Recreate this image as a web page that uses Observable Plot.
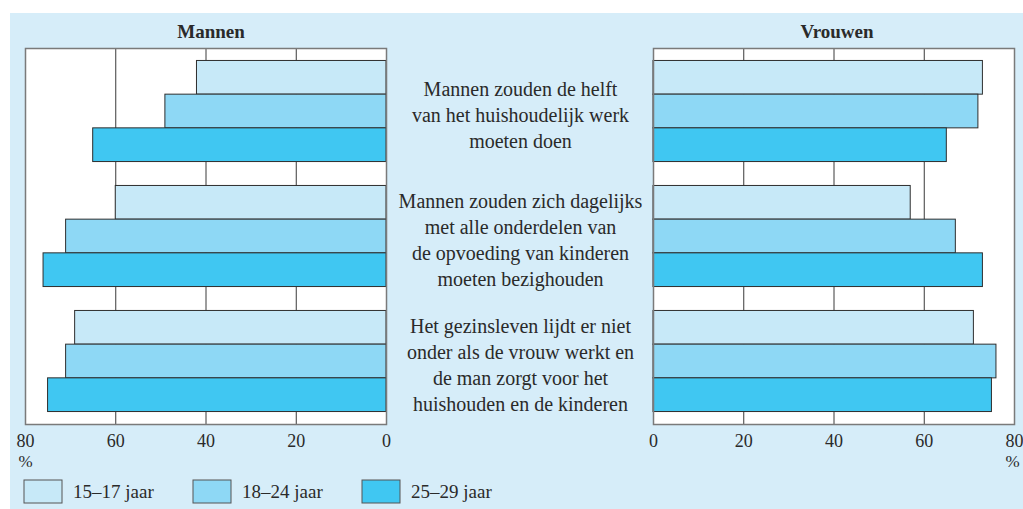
<!DOCTYPE html>
<html>
<head>
<meta charset="utf-8">
<script src="https://cdn.jsdelivr.net/npm/d3@7"></script>
<script src="https://cdn.jsdelivr.net/npm/@observablehq/plot@0.6"></script>
<style>
  html, body { margin: 0; padding: 0; background: #fff; }
  body { width: 1023px; height: 509px; position: relative; overflow: hidden; font-family: 'Liberation Serif', 'DejaVu Serif', serif; color: #2a2a2a; }
  #bg { position: absolute; left: 10px; top: 13px; width: 1013px; height: 496px; background: #d6edf9; }
  .panel { position: absolute; top: 0; }
  .panel svg { overflow: visible; }
  .panel svg, .panel svg text { font-family: 'Liberation Serif', 'DejaVu Serif', serif !important; }
  #legend { position: absolute; left: 24px; top: 475px; }
  #legend, #legend * { font-family: 'Liberation Serif', 'DejaVu Serif', serif !important; }
  .lg-swatch { width: 169px; margin-right: 0 !important; }
  .lg-swatch svg { margin-right: 11px !important; }
  .lg-swatch svg rect { stroke: #555; stroke-width: 1; }
</style>
</head>
<body>
<div id="bg"></div>
<div id="left" class="panel" style="left:0px"></div>
<div id="mid" class="panel" style="left:392px"></div>
<div id="right" class="panel" style="left:648px"></div>
<div id="legend"></div>
<script>
// ---- data ----
const questions = [
  "Mannen zouden de helft\nvan het huishoudelijk werk\nmoeten doen",
  "Mannen zouden zich dagelijks\nmet alle onderdelen van\nde opvoeding van kinderen\nmoeten bezighouden",
  "Het gezinsleven lijdt er niet\nonder als de vrouw werkt en\nde man zorgt voor het\nhuishouden en de kinderen"
];
const ages = ["15–17 jaar", "18–24 jaar", "25–29 jaar"];
const panelTitles = ["Mannen", "Vrouwen"];
const mannen_15_17 = [42, 60, 69];
const mannen_18_24 = [49, 71, 71];
const mannen_25_29 = [65, 76, 75];
const vrouwen_15_17 = [73, 57, 71];
const vrouwen_18_24 = [72, 67, 76];
const vrouwen_25_29 = [65, 73, 75];
const xTicks = [0, 20, 40, 60, 80];
const axisUnit = "%";

// ---- styling / layout ----
const colors = ["#c7e9f8", "#8ed8f5", "#40c7f2"];
const GAP = 0.71;   // gap between question groups, in bar heights
const PAD = 0.37;   // outer padding, in bar heights
const H = 470, MT = 48, MB = 46;
const FONT = "'Liberation Serif', 'DejaVu Serif', serif";

function rowsFor(series) {
  const rows = [];
  questions.forEach((q, qi) => {
    series.forEach((s, ai) => {
      rows.push({question: q, age: ages[ai], value: s[qi], pos: qi * (3 + GAP) + ai});
    });
  });
  return rows;
}
const mRows = rowsFor([mannen_15_17, mannen_18_24, mannen_25_29]);
const vRows = rowsFor([vrouwen_15_17, vrouwen_18_24, vrouwen_25_29]);
const qRows = questions.map((q, qi) => ({question: q, center: qi * (3 + GAP) + 1.5}));
const xMax = d3.max(xTicks);

const yScale = {type: "linear", domain: [-PAD, 9 + 2 * GAP + PAD], reverse: true, axis: null};
const colorScale = {type: "ordinal", domain: ages, range: colors};
const baseStyle = {background: "transparent", fontFamily: FONT, fontSize: "18px", color: "#2a2a2a", overflow: "visible"};

function panel({rows, width, ml, mr, reverse, title, titleDx, unitDx}) {
  return Plot.plot({
    width, height: H, marginLeft: ml, marginRight: mr, marginTop: MT, marginBottom: MB,
    x: {domain: [0, xMax], reverse, ticks: xTicks, tickSize: 0, tickPadding: 10, label: null},
    y: yScale,
    color: colorScale,
    style: baseStyle,
    marks: [
      Plot.frame({fill: "white", stroke: null}),
      Plot.gridX(xTicks, {stroke: "#3a3a3a", strokeOpacity: 1, strokeWidth: 1}),
      Plot.rectX(rows, {x: "value", y1: "pos", y2: d => d.pos + 1, fill: "age", stroke: "#2e2e2e", strokeWidth: 1}),
      Plot.frame({stroke: "#7a7a7a", strokeWidth: 1.5}),
      Plot.text([axisUnit], {x: () => xMax, text: d => d, frameAnchor: "bottom", lineAnchor: "top",
                             dy: 30, dx: unitDx, fontSize: 17, fill: "#2a2a2a"}),
      Plot.text([title], {frameAnchor: "top", lineAnchor: "bottom", dy: -11, dx: titleDx,
                          fontWeight: "bold", fontSize: 19, fill: "#2a2a2a"})
    ]
  });
}

document.getElementById("left").append(panel({
  rows: mRows, width: 390, ml: 25, mr: 4, reverse: true, title: panelTitles[0], titleDx: 5, unitDx: 0
}));
document.getElementById("right").append(panel({
  rows: vRows, width: 375, ml: 5, mr: 9, reverse: false, title: panelTitles[1], titleDx: 3, unitDx: -2
}));

document.getElementById("mid").append(Plot.plot({
  width: 256, height: H, marginLeft: 0, marginRight: 0, marginTop: MT, marginBottom: MB,
  y: yScale,
  style: baseStyle,
  marks: [
    Plot.text(qRows, {y: "center", text: "question", frameAnchor: "middle", dy: 2,
                      lineHeight: 1.31, fontSize: 20, fill: "#2a2a2a"})
  ]
}));

document.getElementById("legend").append(Plot.legend({
  color: colorScale,
  className: "lg",
  swatchWidth: 38, swatchHeight: 23,
  style: {fontFamily: FONT, fontSize: "19px", color: "#2a2a2a", background: "transparent"}
}));
</script>
</body>
</html>
